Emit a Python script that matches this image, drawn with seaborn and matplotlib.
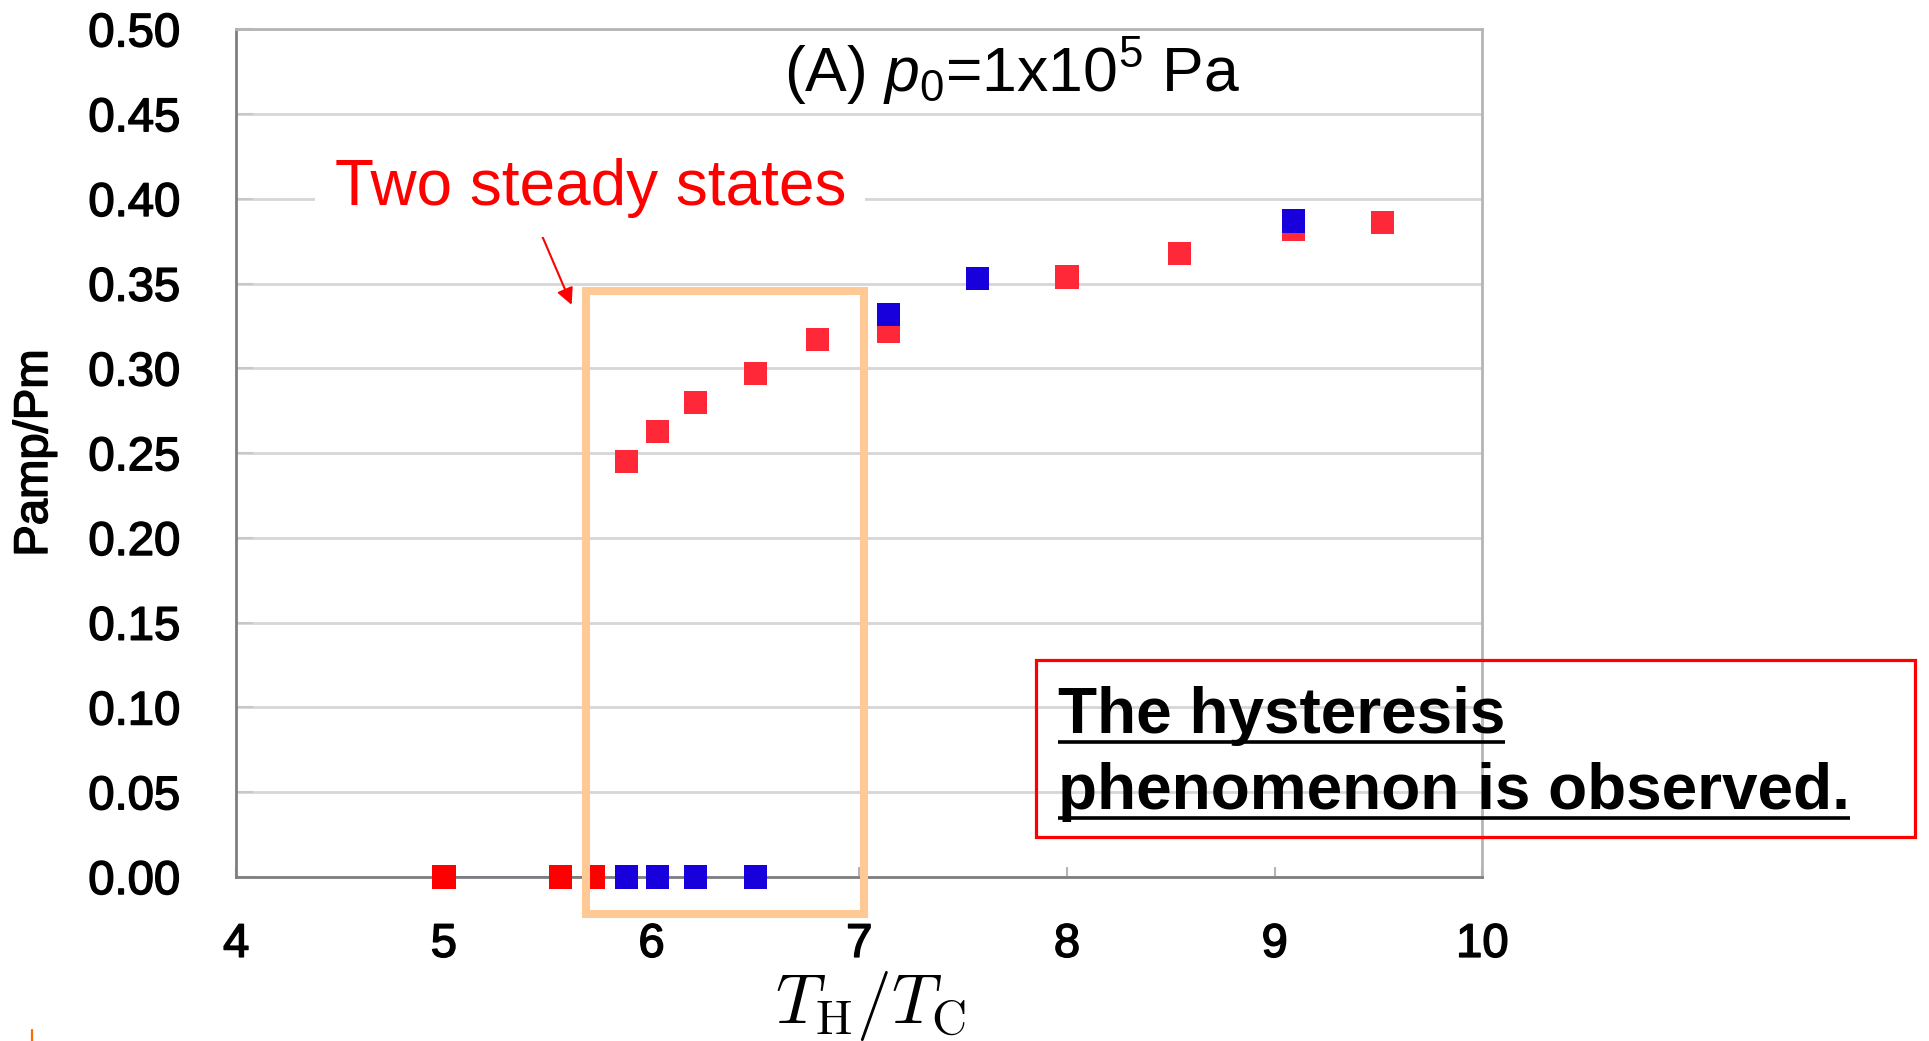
import numpy as np
import pandas as pd
import matplotlib
matplotlib.use("Agg")
import matplotlib.pyplot as plt
import matplotlib.patheffects as pe
import seaborn as sns
from matplotlib.patches import Rectangle
from matplotlib.lines import Line2D

# Heating run, amplitude still zero (no oscillation)
heat_off_x = [5.00, 5.56, 5.72]
heat_off_y = [0.0, 0.0, 0.0]
# Heating run, oscillating branch
heat_on_x = [5.88, 6.03, 6.21, 6.50, 6.80, 7.14, 8.00, 8.54, 9.09, 9.52]
heat_on_y = [0.245, 0.263, 0.280, 0.297, 0.317, 0.322, 0.354, 0.368, 0.382, 0.386]
# Cooling run
cool_x = [5.88, 6.03, 6.21, 6.50, 7.14, 7.57, 9.09]
cool_y = [0.0, 0.0, 0.0, 0.0, 0.332, 0.353, 0.387]

x_ticks = [4, 5, 6, 7, 8, 9, 10]
y_ticks = [0.00, 0.05, 0.10, 0.15, 0.20, 0.25, 0.30, 0.35, 0.40, 0.45, 0.50]

df = pd.concat([
    pd.DataFrame({"TH/TC": heat_off_x, "Pamp/Pm": heat_off_y, "run": "heat_off"}),
    pd.DataFrame({"TH/TC": heat_on_x, "Pamp/Pm": heat_on_y, "run": "heat_on"}),
    pd.DataFrame({"TH/TC": cool_x, "Pamp/Pm": cool_y, "run": "cool"}),
], ignore_index=True)
palette = {"heat_off": "#FF0000", "heat_on": "#FF2838", "cool": "#1800DC"}

sns.set_theme(style="white")
plt.rcParams["font.family"] = ["Liberation Sans", "DejaVu Sans"]
plt.rcParams["mathtext.fontset"] = "custom"
plt.rcParams["mathtext.rm"] = "Liberation Sans"
plt.rcParams["mathtext.it"] = "Liberation Sans:italic"

W, H = 1929, 1041
fig = plt.figure(figsize=(W / 100, H / 100), dpi=100)
ax = fig.add_axes([236.2 / W, 164 / H, (1482.4 - 236.2) / W, (877.1 - 29.5) / H])

# thin connecting line along the zero-amplitude state
sns.lineplot(x=heat_off_x, y=heat_off_y, ax=ax, color="#3A3A9A", lw=1.8, zorder=2)
sns.scatterplot(data=df, x="TH/TC", y="Pamp/Pm", hue="run", palette=palette,
                marker="s", s=280, linewidth=0, legend=False, ax=ax, zorder=3,
                clip_on=False)

ax.set_xlim(4, 10)
ax.set_ylim(0, 0.5)
ax.set_xticks(x_ticks)
ax.set_yticks(y_ticks)
ax.set_yticklabels([f"{v:.2f}" for v in y_ticks])
ax.set_xlabel("")
ax.set_ylabel("")
ax.yaxis.grid(True, color="#d6d6d6", lw=2)
ax.xaxis.grid(False)
ax.set_axisbelow(True)
for side in ["left", "bottom"]:
    ax.spines[side].set_color("#7f7f7f")
    ax.spines[side].set_linewidth(2)
for side in ["top", "right"]:
    ax.spines[side].set_color("#b5b5b5")
    ax.spines[side].set_linewidth(2)
ax.tick_params(axis="x", direction="in", length=7, width=1.5, color="#b5b5b5",
               labelsize=34, pad=33, labelcolor="black")
ax.tick_params(axis="y", direction="in", length=12, width=1.5, color="#c8c8c8",
               labelsize=34, pad=40, labelcolor="black")
ax.tick_params(left=True, bottom=True)
heavy = [pe.withStroke(linewidth=1.1, foreground="black")]
for lab in ax.get_xticklabels() + ax.get_yticklabels():
    lab.set_path_effects(heavy)

# axis titles
fig.text(35 / W, 1 - 453 / H, "Pamp/Pm", rotation=90, ha="center", va="center",
         fontsize=34, color="black", path_effects=heavy)
fig.text(871 / W, 1 - 1006 / H, r"$T_{\rm H}/T_{\rm C}$", ha="center", va="center",
         fontsize=50, color="black", math_fontfamily="cm")

# panel heading
fig.text(1012 / W, 1 - 91 / H, r"(A) $p_0$=1x10$^5$ Pa", ha="center", va="baseline",
         fontsize=45, color="black")

# bistable region
ax.add_patch(Rectangle((5.686, -0.0218), 7.024 - 5.686, 0.3454 + 0.0218, fill=False,
                       edgecolor="#FFC995", lw=5.8, joinstyle="miter", clip_on=False,
                       zorder=4))
fig.text(334.6 / W, 1 - 205 / H, "Two steady states", ha="left", va="baseline",
         fontsize=46, color="#FF0000",
         bbox=dict(boxstyle="square,pad=0.3", fc="white", ec="none"))
ax.annotate("", xy=(5.615, 0.3375), xytext=(5.456, 0.383),
            arrowprops=dict(arrowstyle="-|>", color="#FF0000", lw=1.5,
                            mutation_scale=25, shrinkA=0, shrinkB=0))

# conclusion box
fig.patches.append(Rectangle((1036 / W, 1 - 836.5 / H), (1915 - 1036) / W,
                             (836.5 - 659.5) / H, fill=False, edgecolor="#FF0000",
                             lw=2.3, transform=fig.transFigure, figure=fig))
lines = [("The hysteresis", 733), ("phenomenon is observed.", 809)]
texts = []
for s, base in lines:
    t = fig.text(1058 / W, 1 - base / H, s, ha="left", va="baseline",
                 fontsize=46, fontweight="bold", color="black")
    texts.append((t, base))
fig.canvas.draw()
renderer = fig.canvas.get_renderer()
for t, base in texts:
    bb = t.get_window_extent(renderer)
    yline = 1 - (base + 8.5) / H
    fig.add_artist(Line2D([bb.x0 / W, bb.x1 / W], [yline, yline], color="black",
                          lw=2.6, transform=fig.transFigure, solid_capstyle="butt"))

# small mark at the lower-left corner
fig.add_artist(Line2D([31.5 / W, 31.5 / W], [1 - 1030 / H, 0], color="#FF6A00",
                      lw=1.6, transform=fig.transFigure))

fig.savefig("out.png", dpi=100, facecolor="white")
